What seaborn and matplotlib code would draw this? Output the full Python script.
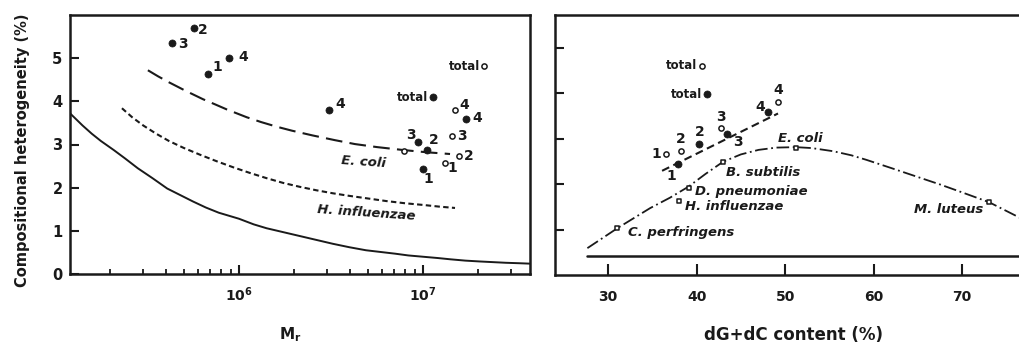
import numpy as np
import pandas as pd
import matplotlib
matplotlib.use("Agg")
import matplotlib.pyplot as plt
import seaborn as sns
from matplotlib.ticker import FixedLocator, NullFormatter, LogFormatterSciNotation

# ---------------- data: left panel (vs. Mr) ----------------
mr_filled = [4.33e5, 5.69e5, 6.8e5, 8.8e5, 3.09e6, 9.4e6, 1.0e7, 1.05e7, 1.13e7, 1.71e7]
het_filled = [5.35, 5.69, 4.63, 5.00, 3.80, 3.06, 2.44, 2.87, 4.10, 3.58]
lab_filled = ["3", "2", "1", "4", "4", "3", "1", "2", "total", "4"]

mr_open = [7.9e6, 1.31e7, 1.44e7, 1.49e7, 1.57e7, 2.14e7]
het_open = [2.86, 2.58, 3.19, 3.80, 2.74, 4.81]
lab_open = ["", "1", "3", "4", "2", "total"]

ecoli_logmr = [5.505, 5.56, 5.62, 5.707, 5.804, 5.87, 5.935, 6.043, 6.12, 6.207, 6.288,
               6.4, 6.522, 6.63, 6.75, 6.897, 7.02, 7.147]
ecoli_het = [4.72, 4.58, 4.44, 4.25, 4.05, 3.93, 3.81, 3.63, 3.52, 3.41, 3.32,
             3.21, 3.10, 3.01, 2.94, 2.87, 2.82, 2.78]

hinf_logmr = [5.364, 5.42, 5.48, 5.55, 5.62, 5.70, 5.79, 5.88, 5.97, 6.06, 6.15, 6.24,
              6.33, 6.42, 6.51, 6.60, 6.70, 6.80, 6.90, 7.00, 7.09, 7.174]
hinf_het = [3.84, 3.63, 3.44, 3.25, 3.08, 2.92, 2.76, 2.61, 2.47, 2.34, 2.22, 2.11,
            2.02, 1.94, 1.87, 1.81, 1.75, 1.69, 1.64, 1.60, 1.56, 1.53]

solid_logmr = [5.08, 5.15, 5.20, 5.25, 5.32, 5.38, 5.45, 5.53, 5.61, 5.68, 5.75, 5.82,
               5.89, 6.00, 6.08, 6.15, 6.24, 6.33, 6.42, 6.51, 6.60, 6.69, 6.77, 6.85,
               6.92, 7.00, 7.08, 7.15, 7.23, 7.31, 7.38, 7.45, 7.52, 7.58]
solid_het = [3.73, 3.44, 3.25, 3.08, 2.87, 2.68, 2.45, 2.22, 1.98, 1.83, 1.68, 1.54,
             1.42, 1.28, 1.15, 1.06, 0.97, 0.88, 0.79, 0.70, 0.62, 0.55, 0.51, 0.47,
             0.43, 0.40, 0.37, 0.34, 0.31, 0.29, 0.275, 0.26, 0.25, 0.24]

# ---------------- data: right panel (vs. dG+dC) ----------------
gc_filled = [37.9, 40.3, 43.4, 48.1, 41.2]
gh_filled = [2.45, 2.89, 3.09, 3.58, 3.97]
gl_filled = ["1", "2", "3", "4", "total"]

gc_open = [36.5, 38.25, 42.73, 49.17, 40.66]
gh_open = [2.66, 2.73, 3.24, 3.81, 4.60]
gl_open = ["1", "2", "3", "4", "total"]

species = ["C. perfringens", "H. influenzae", "D. pneumoniae", "B. subtilis", "E. coli", "M. luteus"]
sp_gc = [31.06, 38.0, 39.1, 43.0, 51.2, 73.05]
sp_het = [1.03, 1.63, 1.91, 2.49, 2.80, 1.60]

curve_gc = [27.66, 31.06, 34.75, 37.0, 39.07, 41.0, 43.0, 45.0, 47.0, 49.0, 51.2, 53.0,
            55.45, 57.5, 59.2, 62.0, 64.9, 67.5, 69.8, 73.05, 76.4, 78.0]
curve_het = [0.59, 1.03, 1.47, 1.70, 1.94, 2.22, 2.49, 2.65, 2.75, 2.80, 2.81, 2.79,
             2.72, 2.63, 2.53, 2.35, 2.16, 1.99, 1.83, 1.60, 1.27, 1.10]

reg_gc = [36.1, 49.2]
reg_het = [2.29, 3.55]

base_gc = [27.66, 79.0]
base_het = [0.42, 0.42]

ecoli_df = pd.DataFrame({"mr": [10 ** v for v in ecoli_logmr], "het": ecoli_het})
hinf_df = pd.DataFrame({"mr": [10 ** v for v in hinf_logmr], "het": hinf_het})
solid_df = pd.DataFrame({"mr": [10 ** v for v in solid_logmr], "het": solid_het})

# ---------------- styling ----------------
sns.set_theme(style="ticks")
plt.rcParams["font.family"] = ["DejaVu Sans"]
plt.rcParams["axes.linewidth"] = 1.8
plt.rcParams["xtick.direction"] = "in"
plt.rcParams["ytick.direction"] = "in"

INK = "#1a1a1a"
W, H = 1019, 346
fig = plt.figure(figsize=(W / 100, H / 100), dpi=100)
fig.patch.set_facecolor("white")

axL = fig.add_axes([69.5 / W, (H - 274) / H, (530 - 69.5) / W, 259 / H])
axR = fig.add_axes([555 / W, (H - 275) / H, 486.75 / W, 260 / H])

for ax in (axL, axR):
    ax.set_facecolor("white")
    for s in ax.spines.values():
        s.set_visible(True)
        s.set_color(INK)
        s.set_linewidth(1.8)

# ---------- left panel ----------
axL.set_xscale("log")
axL.set_xlim(10 ** 5.079, 10 ** 7.5815)
axL.set_ylim(0, 6.0)

sns.lineplot(data=solid_df, x="mr", y="het", ax=axL, color=INK, lw=1.4,
             estimator=None, sort=False)
sns.lineplot(data=ecoli_df, x="mr", y="het", ax=axL, color=INK, lw=1.5,
             estimator=None, sort=False, linestyle=(0, (8, 3.5)))
sns.lineplot(data=hinf_df, x="mr", y="het", ax=axL, color=INK, lw=1.5,
             estimator=None, sort=False, linestyle=(0, (2.6, 1.6)))

sns.scatterplot(x=mr_filled, y=het_filled, ax=axL, color=INK, s=26,
                edgecolor=INK, linewidth=0.5, zorder=5)
sns.scatterplot(x=mr_open, y=het_open, ax=axL, color="white", s=14,
                edgecolor=INK, linewidth=1.1, zorder=5)

off_filled = [(11, -1), (9, -2), (9, 7), (14, 1), (11, 6), (-7, 7), (5, -10), (7, 10), (-5, 0), (11, 1)]
off_open = [(0, 0), (8, -5), (10, 0), (9, 5), (10, 0), (-4, 0)]


def put_labels(ax, xs, ys, labs, offs):
    for x, y, t, (dx, dy) in zip(xs, ys, labs, offs):
        if not t:
            continue
        if t == "total":
            ax.annotate(t, (x, y), xytext=(dx, dy), textcoords="offset pixels",
                        ha="right", va="center", fontsize=8.5, fontweight="bold",
                        color=INK)
        else:
            ax.annotate(t, (x, y), xytext=(dx, dy), textcoords="offset pixels",
                        ha="center", va="center", fontsize=10, fontweight="bold",
                        color=INK)


put_labels(axL, mr_filled, het_filled, lab_filled, off_filled)
put_labels(axL, mr_open, het_open, lab_open, off_open)

axL.text(10 ** 6.679, 2.59, "E. coli", ha="center", va="center", fontsize=9.5,
         fontweight="bold", fontstyle="italic", rotation=-4, color=INK)
axL.text(10 ** 6.69, 1.41, "H. influenzae", ha="center", va="center", fontsize=9.5,
         fontweight="bold", fontstyle="italic", rotation=-4, color=INK)

axL.xaxis.set_major_locator(FixedLocator([1e6, 1e7]))
axL.xaxis.set_major_formatter(LogFormatterSciNotation())
minors = [k * 10 ** e for e in (5, 6, 7) for k in range(2, 10)]
axL.xaxis.set_minor_locator(FixedLocator(minors))
axL.xaxis.set_minor_formatter(NullFormatter())
axL.set_yticks([0, 1, 2, 3, 4, 5])
axL.tick_params(axis="y", which="major", length=6.5, width=1.5, pad=5, labelsize=10.5,
                colors=INK)
axL.tick_params(axis="x", which="major", length=6.5, width=1.5, pad=8, labelsize=10,
                colors=INK)
axL.tick_params(axis="x", which="minor", length=3.5, width=1.3, colors=INK)
for lab in axL.get_yticklabels() + axL.get_xticklabels():
    lab.set_fontweight("bold")

axL.set_xlabel(r"M$_\mathbf{r}$", fontsize=11, fontweight="bold", color=INK)
axL.xaxis.set_label_coords((290 - 69.5) / 460.5, (274 - 335) / 259)
axL.xaxis.label.set_va("center")
axL.set_ylabel("Compositional heterogeneity (%)", fontsize=10.5, fontweight="bold",
               color=INK)
axL.yaxis.set_label_coords((23 - 69.5) / 460.5, (274 - 150) / 259)
axL.yaxis.label.set_va("center")

# ---------- right panel ----------
axR.set_xlim(24.0, 79.0)
axR.set_ylim(0, 260 / 45.5)

sns.lineplot(x=base_gc, y=base_het, ax=axR, color=INK, lw=1.8,
             estimator=None, sort=False)
sns.lineplot(x=curve_gc, y=curve_het, ax=axR, color=INK, lw=1.3,
             estimator=None, sort=False, linestyle=(0, (7, 2, 1, 2)))
sns.lineplot(x=reg_gc, y=reg_het, ax=axR, color=INK, lw=1.5,
             estimator=None, sort=False, linestyle=(0, (3.8, 2.2)))

sns.scatterplot(x=sp_gc, y=sp_het, ax=axR, color="white", marker="s", s=12,
                edgecolor=INK, linewidth=1.1, zorder=5)
sns.scatterplot(x=gc_filled, y=gh_filled, ax=axR, color=INK, s=26,
                edgecolor=INK, linewidth=0.5, zorder=5)
sns.scatterplot(x=gc_open, y=gh_open, ax=axR, color="white", s=14,
                edgecolor=INK, linewidth=1.1, zorder=5)

offR_filled = [(-7, -12), (0, 12), (11, -8), (-8, 5), (-5, 0)]
offR_open = [(-9, 0), (0, 12), (0, 11), (0, 12), (-5, 0)]
put_labels(axR, gc_filled, gh_filled, gl_filled, offR_filled)
put_labels(axR, gc_open, gh_open, gl_open, offR_open)

sp_off = [(11, -4), (6, -6), (6, -3), (3, -11), (-18, 9), (-6, -7)]
sp_ha = ["left", "left", "left", "left", "left", "right"]
for x, y, t, (dx, dy), ha in zip(sp_gc, sp_het, species, sp_off, sp_ha):
    axR.annotate(t, (x, y), xytext=(dx, dy), textcoords="offset pixels",
                 ha=ha, va="center", fontsize=9.5, fontweight="bold",
                 fontstyle="italic", color=INK)

axR.set_xticks([30, 40, 50, 60, 70])
axR.set_yticks([1, 2, 3, 4, 5])
axR.set_yticklabels([])
axR.tick_params(axis="x", length=8, width=1.5, pad=11, labelsize=10, colors=INK)
axR.tick_params(axis="y", length=6.5, width=1.5, colors=INK)
for lab in axR.get_xticklabels():
    lab.set_fontweight("bold")
axR.set_xlabel("dG+dC content (%)", fontsize=12, fontweight="bold", color=INK)
axR.xaxis.set_label_coords((793 - 555) / 486.75, (275 - 335) / 260)
axR.xaxis.label.set_va("center")
axR.set_ylabel("")

for ax in (axL, axR):
    leg = ax.get_legend()
    if leg is not None:
        leg.remove()

fig.savefig("out.png", dpi=100, facecolor="white")
